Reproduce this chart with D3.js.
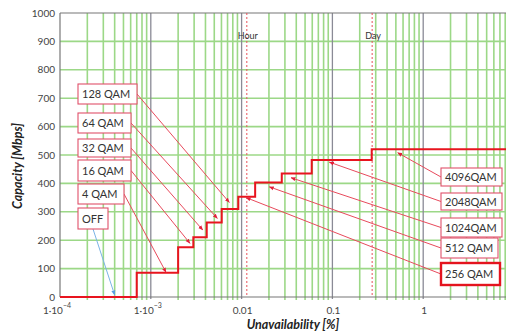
<!DOCTYPE html>
<html><head><meta charset="utf-8">
<script src="https://cdn.jsdelivr.net/npm/d3@7"></script>
<style>
html,body{margin:0;padding:0;background:#fff;}
svg{display:block;font-family:Lato,"Open Sans",sans-serif;}
</style></head>
<body><svg id="c" width="506" height="333"></svg>
<script>
// ---- data ----
const stepUnavailability = [1e-4, 7e-4, 2.0e-3, 2.94e-3, 4.13e-3, 6.04e-3, 9.2e-3, 0.0141, 0.0277, 0.0592, 0.271];
const stepCapacity       = [0,    85,   175,    210,     262,     310,     353,    403,    435,    482,    520];
const modulations = ["OFF","4 QAM","16 QAM","32 QAM","64 QAM","128 QAM","256 QAM","512 QAM","1024QAM","2048QAM","4096QAM"];
const arrowTargetX = [4.0e-4, 1.47e-3, 2.70e-3, 3.73e-3, 5.40e-3, 7.32e-3, 0.0112, 0.0202, 0.035, 0.0925, 0.524];
const arrowTargetY = [7, 87, 189, 236, 277, 333, 350, 388, 420, 475, 508];
const yTicks = [0,100,200,300,400,500,600,700,800,900,1000];
const xTickValues = [1e-4, 1e-3, 0.01, 0.1, 1];
const xTickLabels = [["1·10","−4"],["1·10","−3"],["0.01",""],["0.1",""],["1",""]];
const markers = [{label:"Hour", value:1/8760*100},{label:"Day", value:24/8760*100}];

// ---- layout (annotation boxes, pixel layout) ----
const boxes = {
  "128 QAM":{x:78,y:84,w:59,h:20,side:"r"},
  "64 QAM":{x:78,y:113,w:53,h:20,side:"r"},
  "32 QAM":{x:78,y:139,w:53,h:18,side:"r"},
  "16 QAM":{x:78,y:160,w:53,h:21,side:"r"},
  "4 QAM":{x:78,y:184,w:46,h:20,side:"r"},
  "OFF":{x:78,y:208,w:30,h:21,side:"b"},
  "4096QAM":{x:441,y:168,w:61,h:18,side:"l"},
  "2048QAM":{x:441,y:193,w:61,h:17,side:"l"},
  "1024QAM":{x:441,y:218,w:61,h:19,side:"l"},
  "512 QAM":{x:441,y:238,w:57,h:20,side:"l"},
  "256 QAM":{x:441,y:263,w:59,h:22,side:"l",thick:true}
};

const svg = d3.select("#c");
const x = d3.scaleLog().domain([1e-4, 10]).range([60, 514]);
const y = d3.scaleLinear().domain([0, 1000]).range([297, 13]);

const defs = svg.append("defs");
defs.append("marker").attr("id","ah").attr("viewBox","0 0 10 10").attr("refX",9).attr("refY",5)
  .attr("markerWidth",5).attr("markerHeight",5).attr("orient","auto")
  .append("path").attr("d","M0,1 L10,5 L0,9 z").attr("fill","#e4203a");
defs.append("marker").attr("id","ahb").attr("viewBox","0 0 10 10").attr("refX",9).attr("refY",5)
  .attr("markerWidth",5).attr("markerHeight",5).attr("orient","auto")
  .append("path").attr("d","M0,1 L10,5 L0,9 z").attr("fill","#5aa0e0");

const g = svg.append("g");

// vertical grid
const allTicks = x.ticks();
const isDecade = v => Math.abs(Math.log10(v) - Math.round(Math.log10(v))) < 1e-9;
g.append("g").selectAll("line").data(allTicks.filter(v => !isDecade(v))).join("line")
  .attr("x1", d => x(d)).attr("x2", d => x(d)).attr("y1", y(1000)).attr("y2", y(0)+3)
  .attr("stroke", "#9cd887").attr("stroke-width", 1.6);
// horizontal grid
g.append("g").selectAll("line").data(yTicks.filter(v => v > 0 && v < 1000)).join("line")
  .attr("x1", x(1e-4)).attr("x2", 506).attr("y1", d => y(d)).attr("y2", d => y(d))
  .attr("stroke", "#9cd887").attr("stroke-width", 1.6);
// decade lines
g.append("g").selectAll("line").data(allTicks.filter(v => isDecade(v) && v > 1e-4)).join("line")
  .attr("x1", d => x(d)).attr("x2", d => x(d)).attr("y1", y(1000)).attr("y2", y(0)+2)
  .attr("stroke", "#8a8a96").attr("stroke-width", 1.3);
// frame
g.append("line").attr("x1", x(1e-4)).attr("x2", 506).attr("y1", y(1000)).attr("y2", y(1000)).attr("stroke","#777").attr("stroke-width",1.2);
g.append("line").attr("x1", x(1e-4)).attr("x2", 506).attr("y1", y(0)).attr("y2", y(0)).attr("stroke","#777").attr("stroke-width",1.2);
g.append("line").attr("x1", x(1e-4)).attr("x2", x(1e-4)).attr("y1", y(1000)).attr("y2", y(0)).attr("stroke","#777").attr("stroke-width",1.2);

// hour/day markers
markers.forEach(m => {
  g.append("line").attr("x1", x(m.value)).attr("x2", x(m.value)).attr("y1", y(1000)).attr("y2", y(0))
    .attr("stroke", "#e8505a").attr("stroke-width", 1).attr("stroke-dasharray", "2,2");
  g.append("text").attr("x", x(m.value) + 1).attr("y", 39).attr("text-anchor","middle")
    .attr("font-size", 9).attr("fill", "#333").text(m.label);
});

// y axis labels
g.append("g").selectAll("text").data(yTicks).join("text")
  .attr("x", 55).attr("y", d => y(d) + 3.5).attr("text-anchor","end")
  .attr("font-size", 10).attr("fill", "#444").text(d => d);
// x axis labels
const xl = g.append("g").selectAll("text").data(xTickValues).join("text")
  .attr("x", (d,i) => x(d) + (xTickLabels[i][1] ? -3 : 1)).attr("y", 314).attr("text-anchor","middle")
  .attr("font-size", 10).attr("fill", "#444");
xl.append("tspan").text((d,i) => xTickLabels[i][0]);
xl.append("tspan").attr("dy", -6).attr("font-size", 7).text((d,i) => xTickLabels[i][1]);

// titles
g.append("text").attr("transform","translate(22,166) rotate(-90)").attr("text-anchor","middle")
  .attr("font-size", 12.5).attr("font-weight","bold").attr("font-style","italic").attr("fill","#222")
  .text("Capacity [Mbps]");
g.append("text").attr("x", 293).attr("y", 329).attr("text-anchor","middle")
  .attr("font-size", 12.5).attr("font-weight","bold").attr("font-style","italic").attr("fill","#222")
  .text("Unavailability [%]");

// step line
const pts = stepUnavailability.map((u,i) => [u, stepCapacity[i]]);
pts.push([10, stepCapacity[stepCapacity.length-1]]);
g.append("path").datum(pts)
  .attr("d", d3.line().x(d => x(d[0])).y(d => y(d[1])).curve(d3.curveStepAfter))
  .attr("fill","none").attr("stroke","#e8141e").attr("stroke-width",2);

// annotation arrows and boxes
modulations.forEach((m, i) => {
  const b = boxes[m];
  let sx, sy;
  if (b.side === "r") { sx = b.x + b.w; sy = b.y + b.h/2; }
  else if (b.side === "l") { sx = b.x; sy = b.y + b.h/2; }
  else { sx = b.x + 15; sy = b.y + b.h; }
  const blue = b.side === "b";
  g.append("line").attr("x1", sx).attr("y1", sy).attr("x2", x(arrowTargetX[i])).attr("y2", y(arrowTargetY[i]))
    .attr("stroke", blue ? "#7ab4e6" : "#e84a5c").attr("stroke-width", 1)
    .attr("marker-end", blue ? "url(#ahb)" : "url(#ah)");
});
modulations.forEach((m) => {
  const b = boxes[m];
  g.append("rect").attr("x", b.x).attr("y", b.y).attr("width", b.w).attr("height", b.h)
    .attr("fill", "#fff").attr("stroke", b.thick ? "#e4141e" : "#e0506a").attr("stroke-width", b.thick ? 2.4 : 1.1);
  g.append("text").attr("x", b.x + 4).attr("y", b.y + b.h/2 + 4).attr("font-size", 11).attr("fill", "#333").text(m);
});
</script></body></html>
